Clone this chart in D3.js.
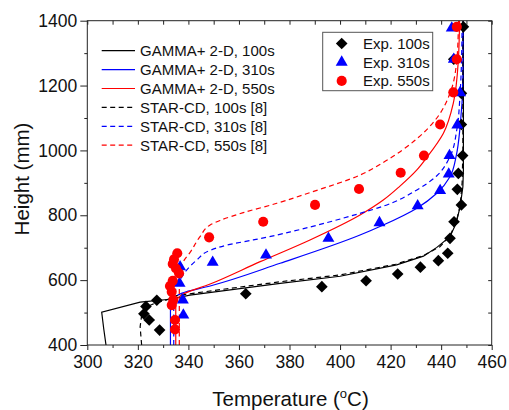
<!DOCTYPE html>
<html><head><meta charset="utf-8">
<script src="https://cdn.jsdelivr.net/npm/d3@7"></script>
<style>
body{margin:0;background:#fff;}
svg{display:block;font-family:Arial,"Liberation Sans",sans-serif;}
</style></head><body>
<svg id="chart" width="509" height="410"></svg>
<script>
// Axis ticks
const xMajor = [300,320,340,360,380,400,420,440,460];
const xMinor = [310,330,350,370,390,410,430,450];
const yMajor = [400,600,800,1000,1200,1400];
const yMinor = [500,700,900,1100,1300];

// Model curves: [temperature °C, height mm]
const gamma100 = [[307.4,400],[306.5,450],[305.7,501],[320.9,532],[332.7,541],[340.6,554],[376.3,590],[400,612],[422.4,647],[433,674],[438.3,701],[443.5,734],[445.9,775],[447.5,826],[448.6,888],[448.8,940],[448.8,1400]];
const gamma310 = [[332.9,400],[332.9,515],[333.3,535],[335,550],[337.5,560],[348.6,582],[376.3,652],[407.9,739],[417.1,770],[430.4,822],[438.3,868],[443.5,919],[446,985],[447.5,1073],[448.6,1227],[448.7,1400]];
const gamma550 = [[335,400],[335,520],[335.5,540],[337,553],[348.6,588],[368.4,657],[388.1,724],[407.9,801],[417.1,847],[423.7,890],[430.4,940],[434.3,978],[440.9,1053],[444.8,1145],[446.8,1279],[447.3,1400]];
const star100 = [[321.5,400],[320.9,456],[321.5,492],[323.5,518],[326.8,529],[331.4,539],[335.4,552],[350,568],[376.3,595],[400,616],[422,649],[433,676],[439.5,703],[443.5,737],[446,780],[447.5,830],[448.3,900],[448.6,1000],[448.6,1400]];
const star310 = [[334.2,400],[334.2,545],[335.5,580],[336.7,600],[339.3,631],[343.3,662],[348.6,692],[355.2,708],[365.7,724],[375,739],[381.5,751],[407.9,806],[417.1,828],[430.4,878],[438.3,922],[443.5,981],[446.2,1064],[447.5,1176],[448.2,1330],[448.3,1400]];
const star550 = [[336.4,400],[336.4,590],[336.6,631],[338.2,660],[340.6,685],[344.6,734],[348.6,770],[352.5,784],[361.7,808],[375,837],[388.1,870],[407.9,924],[417.1,963],[430.4,1036],[438.3,1100],[443.5,1176],[446.2,1279],[446.8,1371],[446.9,1400]];

// Measurements: [temperature °C, height mm]
const exp100 = [[328.6,446],[324.5,477],[322.4,496],[323.2,519],[327.5,538],[362.7,558],[392.8,580],[410.3,598],[422.8,619],[431.8,640],[438.9,660],[442.6,683],[443.5,729],[445.1,780],[448,832],[446.4,880],[446.8,929],[448.5,984],[448,1080],[448,1176],[445,1281],[448.8,1381]];
const exp310 = [[338,492],[337.8,539],[336.5,590],[336.7,641],[349.6,655],[370.7,677],[395.4,729],[415.6,777],[430.7,829],[439.6,876],[443,927],[443.3,984],[446.4,1078],[447.5,1178],[445,1281],[444.2,1377]];
const exp550 = [[334.7,448],[334.7,477],[333.4,523],[334,539],[333.4,564],[332.7,582],[333.8,598],[336.3,621],[335.1,636],[333.8,650],[334.3,664],[335.6,683],[348.2,732],[369.6,780],[390.1,832],[407.5,881],[424,931],[433.2,984],[439.6,1080],[444.8,1179],[446.2,1281],[446.2,1381]];

const lineNames = ["GAMMA+ 2-D, 100s","GAMMA+ 2-D, 310s","GAMMA+ 2-D, 550s","STAR-CD, 100s [8]","STAR-CD, 310s [8]","STAR-CD, 550s [8]"];
const expNames = ["Exp. 100s","Exp. 310s","Exp. 550s"];

const BLACK = "#000", BLUE = "#0000ff", RED = "#ff0000";
const lines = [
  {data: gamma100, color: BLACK, dash: null, smooth: false},
  {data: gamma310, color: BLUE, dash: null, smooth: true},
  {data: gamma550, color: RED, dash: null, smooth: true},
  {data: star100, color: BLACK, dash: "5,3.5", smooth: false},
  {data: star310, color: BLUE, dash: "5,3.5", smooth: true},
  {data: star550, color: RED, dash: "5,3.5", smooth: true}
];
const markers = [
  {data: exp100, color: BLACK, type: "diamond"},
  {data: exp310, color: BLUE, type: "triangle"},
  {data: exp550, color: RED, type: "circle"}
];

const L = 87.3, R = 491.7, T = 20.7, B = 345;
const svg = d3.select("#chart");
const x = d3.scaleLinear().domain([300,460]).range([L,R]);
const y = d3.scaleLinear().domain([400,1400]).range([B,T]);

svg.append("defs").append("clipPath").attr("id","plot")
  .append("rect").attr("x",L).attr("y",T).attr("width",R-L).attr("height",B-T);

function symPath(type){
  if(type==="diamond") return d3.symbol().type(d3.symbolSquare).size(68)();
  if(type==="triangle") return d3.symbol().type(d3.symbolTriangle).size(62)();
  return d3.symbol().type(d3.symbolCircle).size(80)();
}
function drawSymbol(g, type, color, px, py){
  g.append("path").attr("d", symPath(type))
    .attr("transform", `translate(${px},${py})` + (type==="diamond" ? " rotate(45)" : ""))
    .attr("fill", color);
}

// model curves
const plot = svg.append("g").attr("clip-path","url(#plot)");
lines.forEach(s=>{
  const gen = d3.line().x(d=>x(d[0])).y(d=>y(d[1]))
    .curve(s.smooth ? d3.curveMonotoneY : d3.curveLinear);
  plot.append("path").attr("d", gen(s.data))
    .attr("fill","none").attr("stroke", s.color).attr("stroke-width",1.2)
    .attr("stroke-dasharray", s.dash);
});
// measured points
markers.forEach(m=>{
  const g = plot.append("g");
  m.data.forEach(d=>drawSymbol(g, m.type, m.color, x(d[0]), y(d[1])));
});

// axes
const axisColor = "#222";
function styleAxis(g){
  g.select(".domain").remove();
  g.selectAll("line").attr("stroke", axisColor);
  g.selectAll("text").attr("fill","#111").style("font-size","17.5px").style("font-family","Arial, 'Liberation Sans', sans-serif");
}
svg.append("g").attr("transform",`translate(0,${B})`)
  .call(d3.axisBottom(x).tickValues(xMajor).tickSize(5).tickPadding(6).tickFormat(d3.format("d")))
  .call(styleAxis);
svg.append("g").attr("transform",`translate(0,${B})`)
  .call(d3.axisBottom(x).tickValues(xMinor).tickSize(3).tickFormat(""))
  .call(styleAxis);
svg.append("g").attr("transform",`translate(${L},0)`)
  .call(d3.axisLeft(y).tickValues(yMajor).tickSize(7).tickPadding(3).tickFormat(d3.format("d")))
  .call(styleAxis);
svg.append("g").attr("transform",`translate(${L},0)`)
  .call(d3.axisLeft(y).tickValues(yMinor).tickSize(3).tickFormat(""))
  .call(styleAxis);
// inward ticks on top and right
svg.append("g").attr("transform",`translate(0,${T})`)
  .call(d3.axisBottom(x).tickValues(xMajor.concat(xMinor)).tickSize(4).tickFormat(""))
  .call(styleAxis);
svg.append("g").attr("transform",`translate(${R},0)`)
  .call(d3.axisLeft(y).tickValues(yMajor.concat(yMinor)).tickSize(3.5).tickFormat(""))
  .call(styleAxis);

svg.append("rect").attr("x",L).attr("y",T).attr("width",R-L).attr("height",B-T)
  .attr("fill","none").attr("stroke",axisColor).attr("stroke-width",1);

// axis titles
const xt = svg.append("text").attr("x",290.5).attr("y",406).attr("text-anchor","middle")
  .style("font-size","20.5px").attr("fill","#111");
xt.append("tspan").text("Temperature (");
xt.append("tspan").text("o").style("font-size","13px").attr("dy",-8);
xt.append("tspan").text("C)").attr("dy",8);
svg.append("text").attr("transform","translate(28.5,179) rotate(-90)").attr("text-anchor","middle")
  .style("font-size","20.5px").attr("fill","#111").text("Height (mm)");

// legend: model curves
const lg = svg.append("g");
lines.forEach((s,i)=>{
  const cy = 50.7 + i*18.9;
  lg.append("line").attr("x1",101.7).attr("x2",135).attr("y1",cy).attr("y2",cy)
    .attr("stroke",s.color).attr("stroke-width",1.2).attr("stroke-dasharray",s.dash);
  lg.append("text").attr("x",140).attr("y",cy+5.3).style("font-size","15px").attr("fill","#111").text(lineNames[i]);
});

// legend: measurements
const lg2 = svg.append("g");
lg2.append("rect").attr("x",322.7).attr("y",32.3).attr("width",110).attr("height",58.4)
  .attr("fill","#fff").attr("stroke","#555").attr("stroke-width",1);
markers.forEach((m,i)=>{
  const cy = 43.5 + i*18.7;
  drawSymbol(lg2, m.type, m.color, 341.7, cy);
  lg2.append("text").attr("x",363).attr("y",cy+5.3).style("font-size","15px").attr("fill","#111").text(expNames[i]);
});
</script>
</body></html>
